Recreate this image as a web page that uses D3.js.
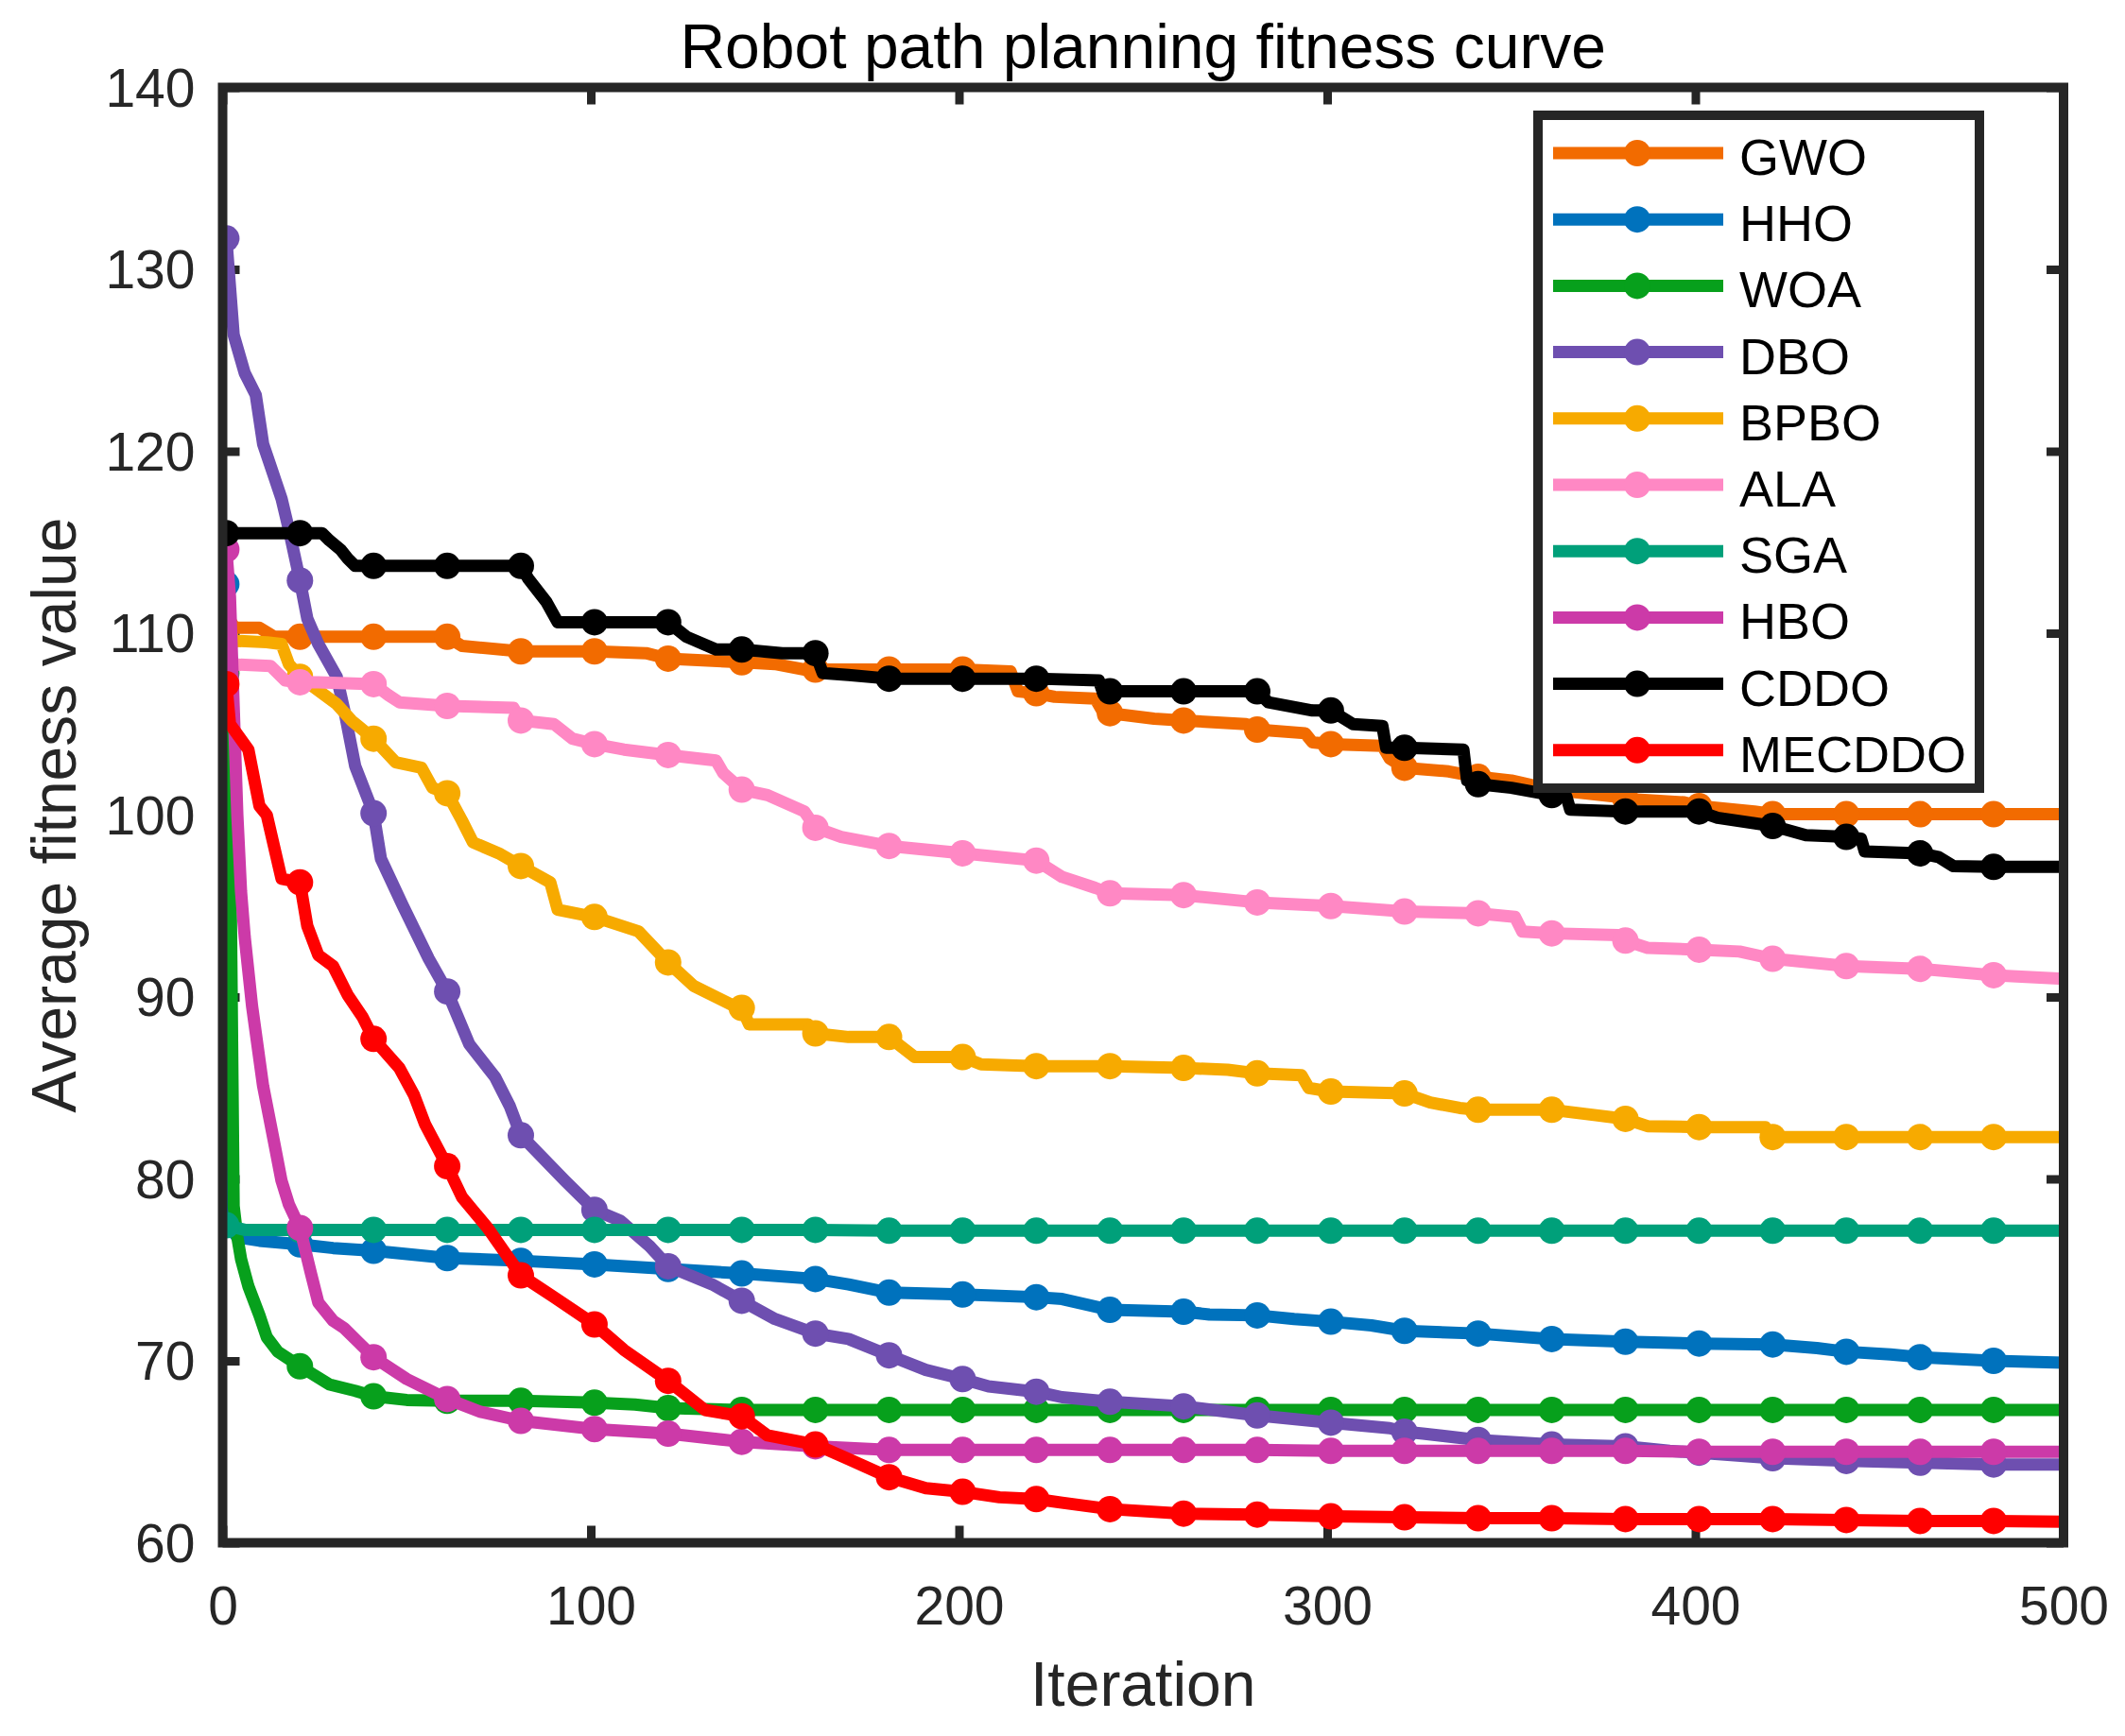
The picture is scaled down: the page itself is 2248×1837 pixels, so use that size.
<!doctype html>
<html lang="en">
<head>
    <meta charset="UTF-8">
    <title>Robot path planning fitness curve</title>
    <script src="https://cdn.jsdelivr.net/npm/d3@7"></script>
    <style>
        body { margin: 0; background: #fff; }
        text { font-family: "Liberation Sans", Arial, Helvetica, sans-serif; }
    </style>
</head>
<body>
<svg width="2248" height="1837"></svg>
</body>
<script>

    // [iteration, average fitness]
    let gwo = [[1,110.3],[10,110.3],[14,109.8],[21,109.8],[41,109.8],[61,109.8],[65,109.3],[81,109.0],[101,109.0],[115,108.9],[121,108.6],[141,108.4],[150,108.3],[158,108.0],[161,108.0],[181,108.0],[201,108.0],[214,107.9],[216,106.8],[221,106.7],[226,106.5],[237,106.4],[239,105.7],[241,105.6],[253,105.3],[261,105.2],[278,105.0],[281,104.7],[294,104.5],[296,104.0],[301,103.9],[315,103.8],[317,103.1],[321,102.6],[333,102.4],[341,102.1],[350,101.9],[361,101.4],[379,101.0],[381,100.9],[397,100.7],[401,100.5],[416,100.2],[421,100.05],[441,100.05],[461,100.05],[481,100.05],[500,100.05]];
    let hho = [[1,112.7],[2,77.3],[4,76.8],[10,76.6],[21,76.4],[30,76.2],[41,76.05],[61,75.65],[81,75.5],[101,75.3],[121,75.05],[141,74.8],[161,74.5],[170,74.2],[181,73.75],[201,73.65],[221,73.5],[228,73.4],[241,72.8],[261,72.7],[268,72.55],[281,72.5],[291,72.3],[301,72.15],[312,71.95],[321,71.65],[341,71.5],[361,71.2],[381,71.05],[401,70.95],[421,70.9],[433,70.7],[441,70.5],[453,70.35],[461,70.2],[481,70.0],[500,69.9]];
    let woa = [[1,107.8],[2,100.0],[3,78.5],[4,76.8],[5,75.6],[7,74.1],[10,72.5],[12,71.3],[15,70.5],[21,69.7],[29,68.7],[36,68.35],[41,68.05],[50,67.85],[61,67.8],[81,67.8],[101,67.7],[112,67.6],[121,67.4],[141,67.3],[161,67.3],[181,67.3],[201,67.3],[221,67.3],[241,67.3],[261,67.3],[281,67.3],[301,67.3],[321,67.3],[341,67.3],[361,67.3],[381,67.3],[401,67.3],[421,67.3],[441,67.3],[461,67.3],[481,67.3],[500,67.3]];
    let dbo = [[1,131.7],[3,126.4],[6,124.3],[9,123.1],[11,120.4],[13,119.2],[16,117.4],[18,115.7],[21,112.9],[23,110.8],[26,109.4],[31,107.6],[33,105.8],[36,102.7],[41,100.1],[43,97.6],[49,95.0],[56,92.1],[61,90.3],[67,87.4],[74,85.6],[78,84.0],[81,82.4],[93,79.9],[101,78.3],[108,77.7],[116,76.3],[121,75.2],[133,74.2],[141,73.3],[150,72.3],[161,71.5],[170,71.2],[181,70.3],[191,69.5],[201,69.0],[208,68.6],[221,68.3],[228,68.0],[241,67.75],[261,67.5],[281,67.0],[301,66.6],[317,66.3],[321,66.1],[326,66.0],[341,65.65],[361,65.4],[381,65.3],[393,65.05],[401,64.95],[421,64.65],[441,64.5],[461,64.4],[481,64.3],[500,64.3]];
    let bpbo = [[1,109.6],[12,109.5],[16,109.4],[18,108.3],[21,107.6],[25,107.0],[31,106.1],[35,105.2],[41,104.2],[47,102.9],[54,102.6],[57,101.5],[61,101.2],[65,99.7],[68,98.5],[75,97.9],[81,97.2],[89,96.3],[91,94.8],[101,94.4],[113,93.6],[120,92.1],[121,91.9],[128,90.6],[140,89.4],[141,89.4],[143,88.5],[159,88.5],[161,88.0],[170,87.8],[181,87.8],[188,86.7],[201,86.7],[206,86.3],[221,86.2],[241,86.2],[261,86.1],[273,86.0],[281,85.8],[293,85.7],[295,85.0],[301,84.8],[321,84.7],[328,84.2],[336,83.9],[341,83.8],[361,83.8],[373,83.5],[381,83.3],[387,82.9],[401,82.85],[419,82.85],[420,82.3],[421,82.3],[441,82.3],[461,82.3],[481,82.3],[500,82.3]];
    let ala = [[1,108.3],[13,108.2],[17,107.4],[21,107.3],[26,107.3],[41,107.2],[45,106.6],[48,106.2],[61,106.0],[79,105.9],[81,105.2],[90,105.0],[95,104.2],[101,103.9],[109,103.6],[121,103.3],[134,103.0],[136,102.3],[141,101.4],[148,101.1],[158,100.2],[161,99.3],[168,98.8],[181,98.3],[201,97.9],[221,97.5],[228,96.6],[237,96.0],[241,95.7],[261,95.6],[281,95.2],[301,95.0],[321,94.7],[341,94.6],[351,94.4],[353,93.6],[361,93.5],[379,93.4],[381,93.1],[387,92.7],[401,92.6],[412,92.5],[421,92.1],[441,91.7],[461,91.55],[481,91.2],[500,91.0]];
    let sga = [[1,77.45],[6,77.2],[21,77.2],[41,77.2],[61,77.2],[81,77.2],[101,77.2],[121,77.2],[141,77.2],[161,77.2],[181,77.15],[201,77.15],[221,77.15],[241,77.15],[261,77.15],[281,77.15],[301,77.15],[321,77.15],[341,77.15],[361,77.15],[381,77.15],[401,77.15],[421,77.15],[441,77.15],[461,77.15],[481,77.15],[500,77.15]];
    let hbo = [[1,114.6],[2,112.0],[3,106.0],[4,100.0],[5,95.8],[6,93.3],[8,89.5],[11,85.1],[14,82.0],[16,79.9],[18,78.6],[21,77.3],[24,74.8],[26,73.2],[30,72.2],[33,71.8],[37,71.0],[41,70.2],[50,69.0],[61,67.9],[70,67.2],[81,66.7],[101,66.25],[121,66.0],[141,65.55],[161,65.3],[181,65.1],[201,65.1],[221,65.1],[241,65.1],[261,65.1],[281,65.1],[301,65.05],[321,65.05],[341,65.05],[361,65.05],[381,65.05],[401,65.0],[421,65.0],[441,65.0],[461,65.0],[481,65.0],[500,65.0]];
    let cddo = [[1,115.5],[21,115.5],[27,115.5],[29,115.1],[32,114.6],[34,114.1],[36,113.7],[41,113.7],[61,113.7],[81,113.7],[83,113.0],[88,111.7],[91,110.6],[101,110.6],[121,110.6],[126,109.8],[134,109.1],[141,109.1],[152,108.9],[161,108.9],[163,107.8],[170,107.7],[181,107.5],[201,107.5],[221,107.5],[238,107.4],[239,106.8],[241,106.8],[261,106.8],[281,106.8],[284,106.2],[296,105.75],[301,105.75],[307,105.0],[315,104.9],[316,103.7],[321,103.7],[337,103.6],[338,101.9],[341,101.7],[350,101.5],[361,101.1],[365,101.0],[366,100.3],[381,100.2],[401,100.2],[406,99.85],[421,99.4],[430,98.9],[441,98.8],[445,98.7],[446,98.0],[461,97.9],[466,97.7],[470,97.2],[481,97.15],[500,97.15]];
    let mecddo = [[1,107.2],[2,105.0],[7,103.6],[10,100.5],[12,100.0],[16,96.5],[21,96.3],[23,93.9],[26,92.3],[30,91.7],[34,90.1],[38,88.9],[41,87.7],[48,86.1],[52,84.6],[55,83.0],[61,80.7],[65,79.0],[72,77.3],[81,74.7],[90,73.5],[101,72.0],[109,70.6],[121,68.9],[131,67.3],[141,66.95],[148,65.9],[161,65.4],[170,64.6],[181,63.6],[191,63.0],[201,62.8],[211,62.5],[221,62.4],[228,62.2],[241,61.85],[261,61.6],[281,61.55],[301,61.45],[321,61.4],[341,61.35],[361,61.35],[381,61.3],[401,61.3],[421,61.3],[441,61.25],[461,61.2],[481,61.2],[500,61.15]];

    let names = ["GWO", "HHO", "WOA", "DBO", "BPBO", "ALA", "SGA", "HBO", "CDDO", "MECDDO"];
    let values = [gwo, hho, woa, dbo, bpbo, ala, sga, hbo, cddo, mecddo];
    let colors = ["#f26b00", "#0072bd", "#07a01c", "#6e4fb0", "#f7aa00", "#ff88c4", "#00a07a", "#cc3aa8", "#000000", "#ff0000"];
    let xTicks = [0, 100, 200, 300, 400, 500];
    let yTicks = [60, 70, 80, 90, 100, 110, 120, 130, 140];

    let grid = {left: 235.5, right: 2183, top: 92.5, bottom: 1632.5};
    let axisColor = "#262626";
    let lineW = 13, markR = 14;

    let svg = d3.select("svg");
    let x = d3.scaleLinear().domain([0, 500]).range([grid.left, grid.right]);
    let y = d3.scaleLinear().domain([60, 140]).range([grid.bottom, grid.top]);

    // ticks (inward, on all four sides like MATLAB box on)
    let tickLen = 18;
    svg.append("g").attr("transform", "translate(0," + grid.bottom + ")")
        .call(d3.axisBottom(x).tickValues(xTicks).tickSizeInner(-tickLen).tickSizeOuter(0).tickPadding(46));
    svg.append("g").attr("transform", "translate(0," + grid.top + ")")
        .call(d3.axisTop(x).tickValues(xTicks).tickSizeInner(-tickLen).tickSizeOuter(0).tickFormat(""));
    let gy = svg.append("g").attr("transform", "translate(" + grid.left + ",0)")
        .call(d3.axisLeft(y).tickValues(yTicks).tickSizeInner(-tickLen).tickSizeOuter(0).tickPadding(29));
    svg.append("g").attr("transform", "translate(" + grid.right + ",0)")
        .call(d3.axisRight(y).tickValues(yTicks).tickSizeInner(-tickLen).tickSizeOuter(0).tickFormat(""));

    svg.selectAll(".domain").remove();
    svg.selectAll(".tick line").attr("stroke", axisColor).attr("stroke-width", 9);
    svg.selectAll(".tick text").attr("fill", axisColor).attr("font-size", 57)
        .attr("font-family", "'Liberation Sans', Arial, sans-serif");
    gy.selectAll(".tick text").attr("dy", "0.35em");

    // series
    let line = d3.line().x(d => x(d[0])).y(d => y(d[1]));
    svg.append("clipPath").attr("id", "plotclip").append("rect")
        .attr("x", grid.left).attr("y", grid.top)
        .attr("width", grid.right - grid.left).attr("height", grid.bottom - grid.top);
    let plot = svg.append("g").attr("clip-path", "url(#plotclip)");

    values.forEach(function (v, i) {
        let g = plot.append("g");
        g.append("path").datum(v)
            .attr("d", line)
            .attr("fill", "none")
            .attr("stroke", colors[i])
            .attr("stroke-width", lineW)
            .attr("stroke-linejoin", "round");
        g.selectAll("circle")
            .data(v.filter(d => (d[0] - 1) % 20 === 0 && d[0] <= 481))
            .enter().append("circle")
            .attr("cx", d => x(d[0]))
            .attr("cy", d => y(d[1]))
            .attr("r", markR)
            .attr("fill", colors[i]);
    });

    // axes box
    svg.append("rect")
        .attr("x", grid.left).attr("y", grid.top)
        .attr("width", grid.right - grid.left).attr("height", grid.bottom - grid.top)
        .attr("fill", "none").attr("stroke", axisColor).attr("stroke-width", 10);

    // title and labels
    svg.append("text")
        .attr("x", (grid.left + grid.right) / 2).attr("y", 72)
        .attr("text-anchor", "middle").attr("font-size", 66).attr("fill", "#000")
        .text("Robot path planning fitness curve");
    svg.append("text")
        .attr("x", (grid.left + grid.right) / 2).attr("y", 1805)
        .attr("text-anchor", "middle").attr("font-size", 66).attr("fill", axisColor)
        .text("Iteration");
    svg.append("text")
        .attr("transform", "translate(80," + (grid.top + grid.bottom) / 2 + ") rotate(-90)")
        .attr("text-anchor", "middle").attr("font-size", 66).attr("fill", axisColor)
        .text("Average fitness value");

    // legend
    let legend = svg.append("g");
    legend.append("rect")
        .attr("x", 1627).attr("y", 122).attr("width", 467).attr("height", 712)
        .attr("fill", "#fff").attr("stroke", axisColor).attr("stroke-width", 10);
    let rows = legend.selectAll(".row").data(names).enter().append("g")
        .attr("transform", (d, i) => "translate(0," + (162 + i * 70.2) + ")");
    rows.append("line")
        .attr("x1", 1643).attr("x2", 1823)
        .attr("stroke", (d, i) => colors[i]).attr("stroke-width", lineW);
    rows.append("circle")
        .attr("cx", 1732).attr("r", markR)
        .attr("fill", (d, i) => colors[i]);
    rows.append("text")
        .attr("x", 1840).attr("y", 4)
        .attr("dominant-baseline", "central")
        .attr("font-size", 54).attr("fill", "#000")
        .text(d => d);

</script>
</html>
